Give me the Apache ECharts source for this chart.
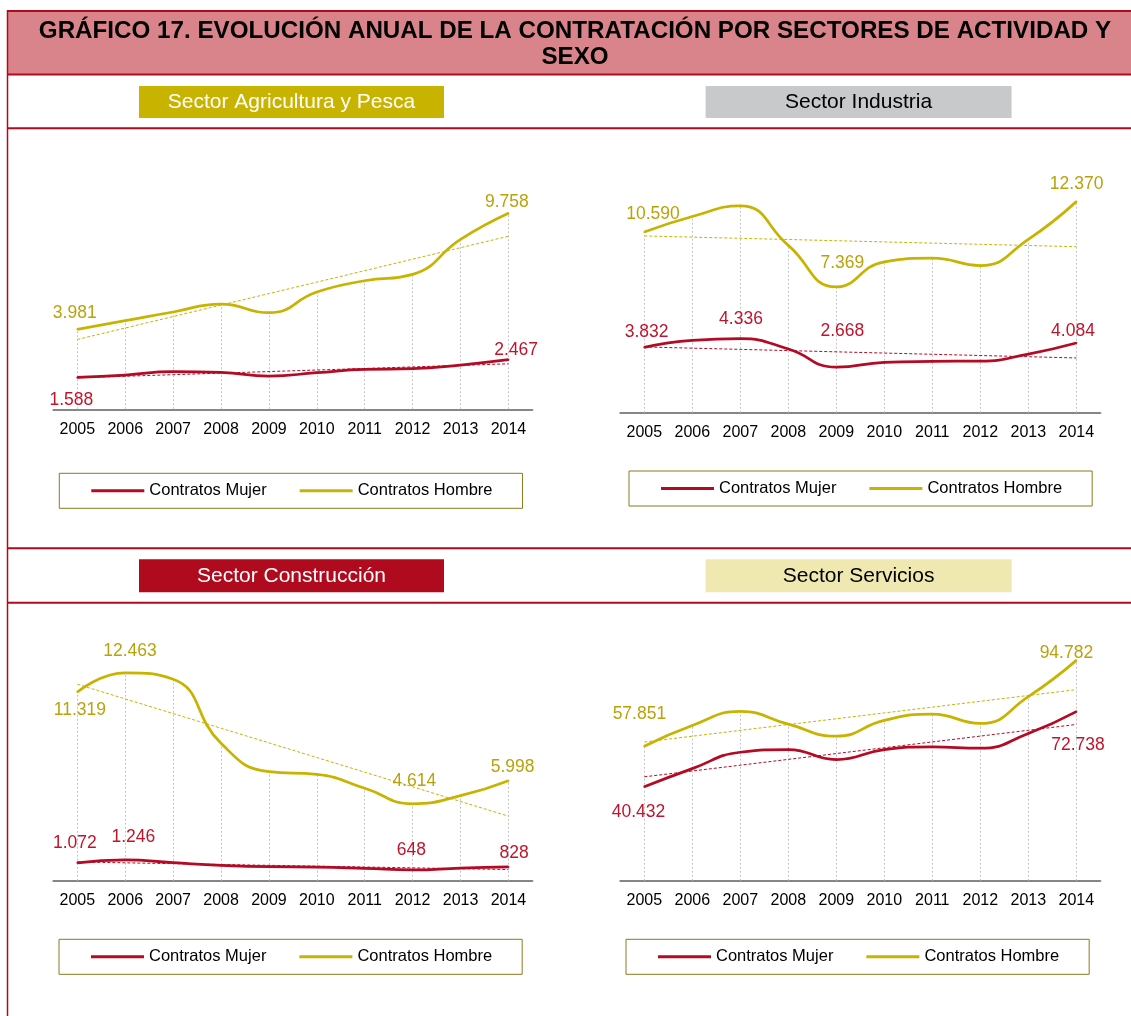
<!DOCTYPE html>
<html>
<head>
<meta charset="utf-8">
<title>Gráfico 17</title>
<script src="https://cdn.jsdelivr.net/npm/echarts@6/dist/echarts.min.js"></script>
<style>
    html, body { margin: 0; padding: 0; background: #fff; }
    #main { width: 1131px; height: 1016px; }
</style>
</head>
<body>
<div id="main"></div>
<script>
// años (eje x)
var years = ['2005', '2006', '2007', '2008', '2009', '2010', '2011', '2012', '2013', '2014'];

// Sector Agricultura y Pesca
var agriMujer  = [1588, 1707, 1871, 1841, 1657, 1821, 1990, 2020, 2204, 2467];
var agriHombre = [3981, 4409, 4842, 5240, 4807, 5837, 6399, 6718, 8459, 9758];

// Sector Industria
var indMujer  = [3832, 4245, 4336, 3732, 2668, 2948, 3007, 3025, 3437, 4084];
var indHombre = [10590, 11497, 12122, 9805, 7369, 8844, 9056, 8626, 10159, 12370];

// Sector Construcción
var conMujer  = [1072, 1246, 1080, 924, 840, 820, 744, 648, 760, 828];
var conHombre = [11319, 12463, 12080, 8241, 6538, 6382, 5542, 4614, 5098, 5998];

// Sector Servicios
var serMujer  = [40432, 48221, 55258, 56423, 52107, 56400, 57589, 56984, 63330, 72738];
var serHombre = [57851, 66785, 72828, 67345, 62165, 68943, 71662, 67648, 79174, 94782];

var RED = '#B40A24';
var GOLD = '#C8B400';
var RED_TXT = '#C0142C';
var GOLD_TXT = '#B9A20C';
var FONT = '"Liberation Sans", Arial, sans-serif';

// formato 3.981
function fmt(v) {
    return String(Math.round(v)).replace(/\B(?=(\d{3})+(?!\d))/g, '.');
}

// línea de tendencia lineal (como la de Excel)
function trend(vals) {
    var n = vals.length, mx = (n - 1) / 2, my = 0, sxy = 0, sxx = 0;
    vals.forEach(function (v) { my += v / n; });
    vals.forEach(function (v, i) { sxy += (i - mx) * (v - my); sxx += (i - mx) * (i - mx); });
    var b = sxy / sxx;
    return vals.map(function (v, i) { return my + b * (i - mx); });
}

// paneles: posición de cada gráfico y etiquetas visibles
var panels = [
    { m: agriMujer, h: agriHombre, max: 11000, left: 53.4, top: 188.3, width: 479, height: 221,
      legend: { left: 59.3, top: 473.3 },
      labH: { 0: [-2.6, -16.6], 9: [-1.6, -10.6] },
      labM: { 0: [-6, 23], 9: [7.7, -9.3] } },
    { m: indMujer, h: indHombre, max: 14000, left: 620.3, top: 173.8, width: 480, height: 238.9,
      legend: { left: 629, top: 471 },
      labH: { 0: [8.7, -17.7], 4: [6, -23.3], 9: [0.3, -17] },
      labM: { 0: [2.3, -15.3], 2: [0.7, -19.3], 4: [6, -36.3], 9: [-3.3, -11.7] } },
    { m: conMujer, h: conHombre, max: 14000, left: 53.4, top: 647.3, width: 479, height: 233.4,
      legend: { left: 59, top: 939.3 },
      labH: { 0: [2.5, 18], 1: [4.7, -22.2], 7: [1.7, -23], 9: [4.1, -13.3] },
      labM: { 0: [-2.5, -20], 1: [8.1, -22.7], 7: [-1.3, -19.3], 9: [5.7, -13.7] } },
    { m: serMujer, h: serHombre, max: 110000, left: 620.3, top: 625, width: 480, height: 255.7,
      legend: { left: 626, top: 939.3 },
      labH: { 0: [-4.9, -31.7], 9: [-9.9, -7.3] },
      labM: { 0: [-5.8, 25], 9: [1.7, 33.7] } }
];

function withLabels(vals, labs, color) {
    return vals.map(function (v, i) {
        if (!labs[i]) return v;
        return {
            value: v,
            label: {
                show: true, position: 'inside', offset: labs[i],
                color: color, fontSize: 17.5, fontFamily: FONT,
                formatter: function (p) { return fmt(p.value); }
            }
        };
    });
}

var grids = [], xAxes = [], yAxes = [], series = [], legends = [];

panels.forEach(function (p, k) {
    grids.push({ left: p.left, top: p.top, width: p.width, height: p.height });
    xAxes.push({
        type: 'category', gridIndex: k, data: years, boundaryGap: true,
        axisLine: { lineStyle: { color: '#868686', width: 2 } },
        axisTick: { show: false },
        axisLabel: { color: '#000', fontSize: 16, fontFamily: FONT, margin: 12, interval: 0 },
        splitLine: { show: false }
    });
    yAxes.push({ type: 'value', gridIndex: k, min: 0, max: p.max, show: false, splitLine: { show: false } });

    // tendencia hombre + líneas de caída
    series.push({
        name: 'Tendencia Hombre ' + k, type: 'line', xAxisIndex: k, yAxisIndex: k,
        data: trend(p.h), symbol: 'none', z: 2, silent: true,
        lineStyle: { color: GOLD, width: 1, type: [3, 2] },
        markLine: {
            silent: true, symbol: ['none', 'none'], z: 1, label: { show: false },
            lineStyle: { color: '#C4C4C4', width: 1, type: [2, 2] },
            data: years.map(function (y, i) {
                return [{ coord: [y, 0] }, { coord: [y, p.h[i]] }];
            })
        }
    });
    series.push({
        name: 'Tendencia Mujer ' + k, type: 'line', xAxisIndex: k, yAxisIndex: k,
        data: trend(p.m), symbol: 'none', z: 2, silent: true,
        lineStyle: { color: RED, width: 1, type: [3, 2] }
    });
    series.push({
        name: 'Contratos Mujer', type: 'line', xAxisIndex: k, yAxisIndex: k,
        data: withLabels(p.m, p.labM, RED_TXT), smooth: 0.5, z: 3,
        symbol: 'circle', symbolSize: 2, color: RED,
        lineStyle: { color: RED, width: 2.75 }, itemStyle: { color: RED }
    });
    series.push({
        name: 'Contratos Hombre', type: 'line', xAxisIndex: k, yAxisIndex: k,
        data: withLabels(p.h, p.labH, GOLD_TXT), smooth: 0.5, z: 3,
        symbol: 'circle', symbolSize: 2, color: GOLD,
        lineStyle: { color: GOLD, width: 2.75 }, itemStyle: { color: GOLD }
    });

    legends.push({
        left: p.legend.left, top: p.legend.top,
        data: ['Contratos Mujer', 'Contratos Hombre'],
        icon: 'rect', itemWidth: 53, itemHeight: 3, itemGap: 33,
        borderColor: '#8C7A1E', borderWidth: 1, borderRadius: 0,
        padding: [9, 30, 9, 32],
        selectedMode: false,
        textStyle: { color: '#000', fontSize: 16.5, fontFamily: FONT, lineHeight: 17 }
    });
});

// rótulos, bandas y líneas de la hoja
var graphic = [
    { type: 'rect', silent: true, shape: { x: 7, y: 11, width: 1124, height: 63 }, style: { fill: '#D9848B' } },
    { type: 'line', silent: true, shape: { x1: 7, y1: 11, x2: 1131, y2: 11 }, style: { stroke: '#B00A1E', lineWidth: 2 } },
    { type: 'line', silent: true, shape: { x1: 7, y1: 74.5, x2: 1131, y2: 74.5 }, style: { stroke: '#B00A1E', lineWidth: 2 } },
    { type: 'line', silent: true, shape: { x1: 7.5, y1: 10, x2: 7.5, y2: 1016 }, style: { stroke: '#B00A1E', lineWidth: 1.5 } },
    { type: 'line', silent: true, shape: { x1: 7, y1: 128.3, x2: 1131, y2: 128.3 }, style: { stroke: '#B00A1E', lineWidth: 2 } },
    { type: 'line', silent: true, shape: { x1: 7, y1: 548.3, x2: 1131, y2: 548.3 }, style: { stroke: '#B00A1E', lineWidth: 2 } },
    { type: 'line', silent: true, shape: { x1: 7, y1: 602.7, x2: 1131, y2: 602.7 }, style: { stroke: '#B00A1E', lineWidth: 2 } },
    { type: 'text', silent: true, x: 575, y: 31, style: {
        text: 'GRÁFICO 17. EVOLUCIÓN ANUAL DE LA CONTRATACIÓN POR SECTORES DE ACTIVIDAD Y',
        font: 'bold 24.2px ' + FONT, fill: '#000', textAlign: 'center', textVerticalAlign: 'middle' } },
    { type: 'text', silent: true, x: 575, y: 57, style: {
        text: 'SEXO', font: 'bold 24.2px ' + FONT, fill: '#000', textAlign: 'center', textVerticalAlign: 'middle' } }
];

var boxes = [
    { text: 'Sector Agricultura y Pesca', x: 139, y: 86, w: 305, h: 32, fill: '#C8B400', color: '#fff' },
    { text: 'Sector Industria', x: 705.6, y: 86, w: 306, h: 32, fill: '#C8C9CB', color: '#000' },
    { text: 'Sector Construcción', x: 139, y: 559.3, w: 305, h: 33, fill: '#B00A1E', color: '#fff' },
    { text: 'Sector Servicios', x: 705.6, y: 559.3, w: 306, h: 33, fill: '#EFE8B0', color: '#000' }
];
boxes.forEach(function (b) {
    graphic.push({ type: 'rect', silent: true, shape: { x: b.x, y: b.y, width: b.w, height: b.h }, style: { fill: b.fill } });
    graphic.push({ type: 'text', silent: true, x: b.x + b.w / 2, y: b.y + b.h / 2 + 0.5, style: {
        text: b.text, font: '21px ' + FONT, fill: b.color, textAlign: 'center', textVerticalAlign: 'middle' } });
});

var myChart = echarts.init(document.getElementById('main'));
myChart.setOption({
    animation: false,
    backgroundColor: '#fff',
    grid: grids,
    xAxis: xAxes,
    yAxis: yAxes,
    legend: legends,
    series: series,
    graphic: graphic
});
</script>
</body>
</html>
